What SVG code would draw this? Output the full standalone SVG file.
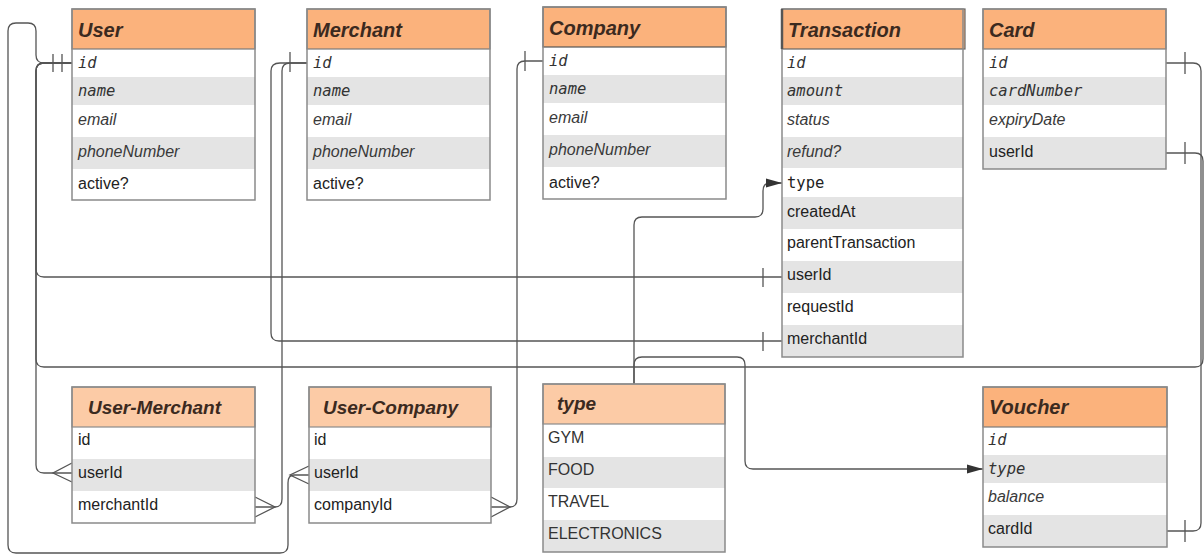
<svg xmlns="http://www.w3.org/2000/svg" width="1204" height="557" viewBox="0 0 1204 557">
<style>
.bg{fill:#ffffff}
.hd{fill:#fbb27c;stroke:#7a7a7a;stroke-width:1.2}
.hdl{fill:#fccba6;stroke:#8a8a8a;stroke-width:1.2}
.box{fill:none;stroke:#8a8a8a;stroke-width:1.5}
.w{fill:#ffffff}
.g{fill:#e4e4e4}
.ht{font-family:"Liberation Sans",Arial,sans-serif;font-weight:bold;font-style:italic;font-size:20px;fill:#3b2a1f}
.mi{font-family:"DejaVu Sans Mono","Liberation Mono",monospace;font-style:italic;font-size:15.5px;fill:#333}
.m{font-family:"DejaVu Sans Mono","Liberation Mono",monospace;font-size:15.5px;fill:#222}
.si{font-family:"Liberation Sans",Arial,sans-serif;font-style:italic;font-size:16px;fill:#3a3a3a}
.s{font-family:"Liberation Sans",Arial,sans-serif;font-size:16px;fill:#222}
.c{fill:none;stroke:#555;stroke-width:1.3}
</style>
<defs>
<marker id="arr" markerUnits="userSpaceOnUse" markerWidth="17" markerHeight="10" refX="16" refY="5" orient="auto">
<path d="M0,0.5 L16,5 L0,9.5 z" fill="#333"/>
</marker>
</defs>
<rect class="bg" x="0" y="0" width="1204" height="557"/>

<g id="connectors">
<!-- User.id -> User-Company.userId -->
<path class="c" d="M72,63 L44,63 Q36,63 36,55 L36,31 Q36,23 28,23 L16,23 Q8,23 8,31 L8,545 Q8,553 16,553 L280,553 Q288,553 288,545 L288,483 Q288,475 294,475 L309,475"/>
<path class="c" d="M309,466 L290,475 L309,484"/>
<!-- User.id -> User-Merchant.userId -->
<path class="c" d="M72,63 L44,63 Q36,63 36,71 L36,465 Q36,473 44,473 L72,473"/>
<path class="c" d="M72,463 L53,473 L72,482"/>
<!-- User.id -> Transaction.userId -->
<path class="c" d="M72,63 L44,63 Q36,63 36,71 L36,269 Q36,277 44,277 L782,277"/>
<path class="c" d="M763,268 L763,287"/>
<!-- Card.userId -> User.id -->
<path class="c" d="M1166,153 L1195,153 Q1203,153 1203,161 L1203,359 Q1203,367 1195,367 L44,367 Q36,367 36,359 L36,71 Q36,63 44,63 L72,63"/>
<path class="c" d="M1185,142 L1185,164"/>
<path class="c" d="M53,54 L53,72 M62,54 L62,72"/>
<!-- Merchant.id -> Transaction.merchantId -->
<path class="c" d="M307,63 L280,63 Q271,63 271,71 L271,333 Q271,341 279,341 L782,341"/>
<path class="c" d="M763,332 L763,351"/>
<!-- Merchant.id -> User-Merchant.merchantId -->
<path class="c" d="M307,63 L290,63 Q282,63 282,71 L282,499 Q282,507 275,507 L255,507"/>
<path class="c" d="M255,497 L275,507 L255,517"/>
<path class="c" d="M290,52 L290,72"/>
<!-- Company.id -> User-Company.companyId -->
<path class="c" d="M543,61 L525,61 Q517,61 517,69 L517,499 Q517,507 510,507 L491,507"/>
<path class="c" d="M491,497 L510,507 L491,517"/>
<path class="c" d="M525,51 L525,71"/>
<!-- Card.id -> Voucher.cardId -->
<path class="c" d="M1166,63 L1193,63 Q1201,63 1201,71 L1201,523 Q1201,531 1193,531 L1167,531"/>
<path class="c" d="M1185,52 L1185,74 M1185,520 L1185,542"/>
<!-- type -> Transaction.type -->
<path class="c" marker-end="url(#arr)" d="M634,384 L634,225 Q634,217 642,217 L755,217 Q763,217 763,209 L763,191 Q763,183 770,183 L782,183"/>
<!-- type -> Voucher.type -->
<path class="c" marker-end="url(#arr)" d="M634,384 L634,365 Q634,357 642,357 L737,357 Q745,357 745,365 L745,461 Q745,469 753,469 L983,469"/>
</g>

<g id="user">
<rect class="w" x="72" y="49" width="183" height="28"/>
<rect class="g" x="72" y="77" width="183" height="28"/>
<rect class="w" x="72" y="105" width="183" height="32"/>
<rect class="g" x="72" y="137" width="183" height="32"/>
<rect class="w" x="72" y="169" width="183" height="31"/>
<rect class="hd" x="72" y="9" width="183" height="40"/>
<rect class="box" x="72" y="9" width="183" height="191"/>
<text class="ht" x="78" y="37">User</text>
<text class="mi" x="78" y="68">id</text>
<text class="mi" x="78" y="96">name</text>
<text class="si" x="78" y="125">email</text>
<text class="si" x="78" y="157">phoneNumber</text>
<text class="s" x="78" y="189">active?</text>
</g>

<g id="merchant">
<rect class="w" x="307" y="49" width="183" height="28"/>
<rect class="g" x="307" y="77" width="183" height="28"/>
<rect class="w" x="307" y="105" width="183" height="32"/>
<rect class="g" x="307" y="137" width="183" height="32"/>
<rect class="w" x="307" y="169" width="183" height="31"/>
<rect class="hd" x="307" y="9" width="183" height="40"/>
<rect class="box" x="307" y="9" width="183" height="191"/>
<text class="ht" x="313" y="37">Merchant</text>
<text class="mi" x="313" y="68">id</text>
<text class="mi" x="313" y="96">name</text>
<text class="si" x="313" y="125">email</text>
<text class="si" x="313" y="157">phoneNumber</text>
<text class="s" x="313" y="189">active?</text>
</g>

<g id="company">
<rect class="w" x="543" y="47" width="183" height="28"/>
<rect class="g" x="543" y="75" width="183" height="28"/>
<rect class="w" x="543" y="103" width="183" height="32"/>
<rect class="g" x="543" y="135" width="183" height="32"/>
<rect class="w" x="543" y="167" width="183" height="32"/>
<rect class="hd" x="543" y="7" width="183" height="40" style="stroke:#555"/>
<rect class="box" x="543" y="7" width="183" height="192"/>
<text class="ht" x="549" y="35">Company</text>
<text class="mi" x="549" y="66">id</text>
<text class="mi" x="549" y="94">name</text>
<text class="si" x="549" y="123">email</text>
<text class="si" x="549" y="155">phoneNumber</text>
<text class="s" x="549" y="188">active?</text>
</g>

<g id="transaction">
<rect class="w" x="782" y="49" width="181" height="28"/>
<rect class="g" x="782" y="77" width="181" height="28"/>
<rect class="w" x="782" y="105" width="181" height="32"/>
<rect class="g" x="782" y="137" width="181" height="31"/>
<rect class="w" x="782" y="168" width="181" height="29"/>
<rect class="g" x="782" y="197" width="181" height="32"/>
<rect class="w" x="782" y="229" width="181" height="32"/>
<rect class="g" x="782" y="261" width="181" height="32"/>
<rect class="w" x="782" y="293" width="181" height="32"/>
<rect class="g" x="782" y="325" width="181" height="32"/>
<rect class="hd" x="782" y="9" width="183" height="40" style="stroke:#666"/>
<rect class="box" x="782" y="9" width="181" height="348"/>
<line x1="782" y1="9" x2="782" y2="49" stroke="#555" stroke-width="2.5"/>
<text class="ht" x="788" y="37">Transaction</text>
<text class="mi" x="787" y="68">id</text>
<text class="mi" x="787" y="96">amount</text>
<text class="si" x="787" y="125">status</text>
<text class="si" x="787" y="157">refund?</text>
<text class="m" x="787" y="188">type</text>
<text class="s" x="787" y="217">createdAt</text>
<text class="s" x="787" y="248">parentTransaction</text>
<text class="s" x="787" y="280">userId</text>
<text class="s" x="787" y="312">requestId</text>
<text class="s" x="787" y="344">merchantId</text>
</g>

<g id="card">
<rect class="w" x="983" y="49" width="183" height="28"/>
<rect class="g" x="983" y="77" width="183" height="28"/>
<rect class="w" x="983" y="105" width="183" height="32"/>
<rect class="g" x="983" y="137" width="183" height="32"/>
<rect class="hd" x="983" y="9" width="183" height="40"/>
<rect class="box" x="983" y="9" width="183" height="160"/>
<text class="ht" x="989" y="37">Card</text>
<text class="mi" x="989" y="68">id</text>
<text class="mi" x="989" y="96">cardNumber</text>
<text class="si" x="989" y="125">expiryDate</text>
<text class="s" x="989" y="157">userId</text>
</g>

<g id="user-merchant">
<rect class="w" x="72" y="427" width="183" height="32"/>
<rect class="g" x="72" y="459" width="183" height="32"/>
<rect class="w" x="72" y="491" width="183" height="32"/>
<rect class="hdl" x="72" y="387" width="183" height="40"/>
<rect class="box" x="72" y="387" width="183" height="136"/>
<text class="ht" x="88" y="414" style="font-size:19px">User-Merchant</text>
<text class="s" x="78" y="445">id</text>
<text class="s" x="78" y="478">userId</text>
<text class="s" x="78" y="510">merchantId</text>
</g>

<g id="user-company">
<rect class="w" x="309" y="427" width="182" height="32"/>
<rect class="g" x="309" y="459" width="182" height="32"/>
<rect class="w" x="309" y="491" width="182" height="32"/>
<rect class="hdl" x="309" y="387" width="182" height="40"/>
<rect class="box" x="309" y="387" width="182" height="136"/>
<text class="ht" x="323" y="414" style="font-size:19px">User-Company</text>
<text class="s" x="314" y="445">id</text>
<text class="s" x="314" y="478">userId</text>
<text class="s" x="314" y="510">companyId</text>
</g>

<g id="type">
<rect class="w" x="543" y="424" width="182" height="33"/>
<rect class="g" x="543" y="457" width="182" height="31"/>
<rect class="w" x="543" y="488" width="182" height="32"/>
<rect class="g" x="543" y="520" width="182" height="32"/>
<rect class="hdl" x="543" y="384" width="182" height="40"/>
<rect class="box" x="543" y="384" width="182" height="168"/>
<text class="ht" x="557" y="410" style="font-size:19px">type</text>
<text class="s" x="548" y="443" style="fill:#333">GYM</text>
<text class="s" x="548" y="475" style="fill:#333">FOOD</text>
<text class="s" x="548" y="507" style="fill:#333">TRAVEL</text>
<text class="s" x="548" y="539" style="fill:#333">ELECTRONICS</text>
</g>

<g id="voucher">
<rect class="w" x="983" y="427" width="184" height="28"/>
<rect class="g" x="983" y="455" width="184" height="28"/>
<rect class="w" x="983" y="483" width="184" height="32"/>
<rect class="g" x="983" y="515" width="184" height="32"/>
<rect class="hd" x="983" y="387" width="184" height="40"/>
<rect class="box" x="983" y="387" width="184" height="160"/>
<text class="ht" x="989" y="414">Voucher</text>
<text class="mi" x="988" y="445">id</text>
<text class="mi" x="988" y="474">type</text>
<text class="si" x="988" y="502">balance</text>
<text class="s" x="988" y="534">cardId</text>
</g>
</svg>
